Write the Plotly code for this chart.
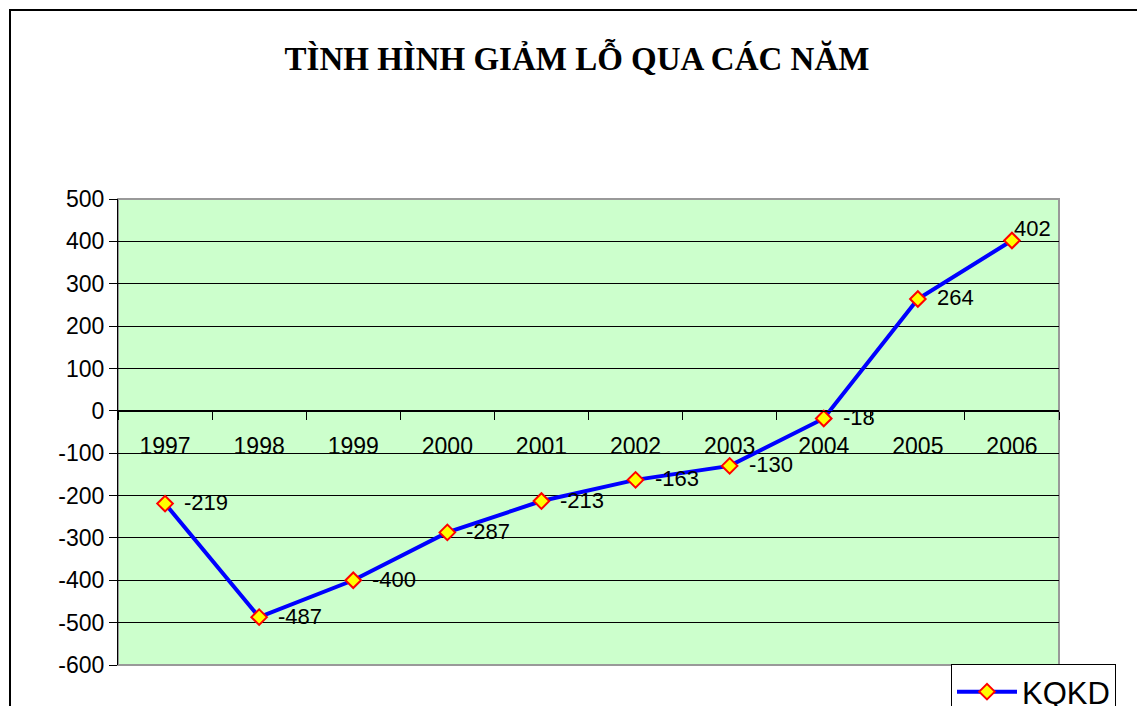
import plotly.graph_objects as go

years = ["1997", "1998", "1999", "2000", "2001", "2002", "2003", "2004", "2005", "2006"]
kqkd = [-219, -487, -400, -287, -213, -163, -130, -18, 264, 402]
y_ticks = [500, 400, 300, 200, 100, 0, -100, -200, -300, -400, -500, -600]
title_text = "TÌNH HÌNH GIẢM LỖ QUA CÁC NĂM"
series_name = "KQKD"

# page body has an 8px margin: design in window pixels, shift by -8
OFF = 8
W, H = 1145 - OFF, 706 - OFF
L, R, T, B = 118 - OFF, 1059 - OFF, 199 - OFF, 665 - OFF
pw, ph = R - L, B - T

def px_x(p):
    return (p - OFF - L) / pw

def px_y(p):
    return (B - (p - OFF)) / ph

fig = go.Figure()
fig.add_trace(go.Scatter(
    x=years, y=kqkd, name=series_name,
    mode="lines+markers",
    line=dict(color="#0000FF", width=4),
    marker=dict(symbol="diamond", size=12, color="#FFFF00",
                line=dict(color="#FF0000", width=2)),
    cliponaxis=False,
))

annotations = []
for i, v in enumerate(kqkd):
    last = i == len(kqkd) - 1
    annotations.append(dict(
        x=i, y=v, xref="x", yref="y", text=str(v), showarrow=False,
        xanchor="left", yanchor="middle",
        xshift=0 if last else 17, yshift=12 if last else 1,
        font=dict(family="Arial, Liberation Sans", size=22, color="black"),
    ))

zero_pos = (0 - min(y_ticks)) / (max(y_ticks) - min(y_ticks))

fig.update_layout(
    width=W, height=H,
    margin=dict(l=L, r=W - R, t=T, b=H - B, autoexpand=False),
    paper_bgcolor="white",
    plot_bgcolor="#CCFFCC",
    title=dict(text="<b>" + title_text + "</b>", x=(577 - OFF) / W, xanchor="center",
               y=1 - (58 - OFF) / H, yanchor="middle",
               font=dict(family="Liberation Serif, Times New Roman", size=33, color="black")),
    font=dict(family="Arial, Liberation Sans", size=23, color="black"),
    xaxis=dict(type="category", categoryorder="array", categoryarray=years,
               range=[-0.5, len(years) - 0.5],
               anchor="free", position=zero_pos,
               showline=True, linecolor="black", linewidth=1,
               ticks="outside", ticklen=8, tickcolor="black", tickwidth=1,
               tickson="boundaries", showgrid=False,
               ticklabelstandoff=15,
               tickfont=dict(family="Arial, Liberation Sans", size=23, color="black")),
    yaxis=dict(range=[min(y_ticks), max(y_ticks)],
               tickvals=y_ticks, ticktext=[str(v) for v in y_ticks],
               showline=True, linecolor="black", linewidth=1,
               ticks="outside", ticklen=8, tickcolor="black",
               showgrid=True, gridcolor="black", gridwidth=1,
               zeroline=False,
               tickfont=dict(family="Arial, Liberation Sans", size=23, color="black")),
    showlegend=True,
    legend=dict(x=px_x(951), y=px_y(664), xanchor="left", yanchor="top",
                bgcolor="white", bordercolor="black", borderwidth=1,
                itemwidth=60,
                font=dict(family="Arial, Liberation Sans", size=31, color="black")),
    annotations=annotations,
    shapes=[
        dict(type="rect", xref="paper", yref="paper", x0=0, x1=1, y0=0, y1=1,
             line=dict(color="#999999", width=2), layer="below"),
        dict(type="rect", xref="paper", yref="paper",
             x0=px_x(10), x1=px_x(1140), y0=px_y(740), y1=px_y(10),
             line=dict(color="black", width=2)),
    ],
)

fig.write_html("out.html")
